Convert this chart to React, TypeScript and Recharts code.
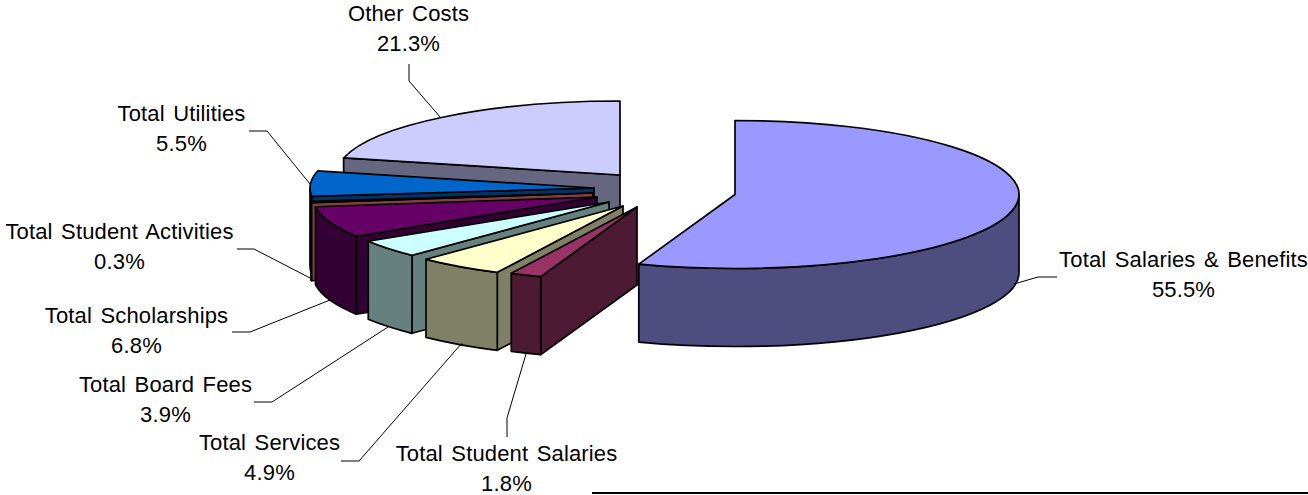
import React from "react";
import { PieChart, Pie } from "recharts";

// Listed counter-clockwise from 12 o'clock, which is also back-to-front paint order.
const categories = [
  "Other Costs",
  "Total Utilities",
  "Total Student Activities",
  "Total Scholarships",
  "Total Board Fees",
  "Total Services",
  "Total Student Salaries",
  "Total Salaries & Benefits",
];
const shares = [21.3, 5.5, 0.3, 6.8, 3.9, 4.9, 1.8, 55.5];
const topColors = ["#CCCCFF", "#0066CC", "#804040", "#660066", "#CCFFFF", "#FFFFCC", "#993366", "#9999FF"];
const wallColors = ["#666680", "#003366", "#804040", "#330033", "#668080", "#808066", "#4D1A33", "#4D4D80"];

const chartData = categories.map((name, i) => ({ name, value: shares[i], index: i }));

// Layout only
const CX = 620;
const CY = 175;
const RX = 284;
const RY = 74;
const DEPTH = 78;
const explode = [
  [0, 0],
  [-26, 13],
  [-27, 18],
  [-23, 22],
  [-11, 27],
  [3, 31],
  [17, 32],
  [115, 19.5],
];
const labelAnchors = [
  [408.5, 21],
  [181.5, 121],
  [119.5, 239],
  [136.5, 323],
  [165.5, 392],
  [269.5, 450],
  [506.5, 461],
  [1183.5, 267],
];
const leaders = [
  "409,64 409,81 441,118",
  "249,131 267,131 310,184",
  "237,249 254,249 312,279",
  "232,332 250,332 330,300",
  "254,402 272,402 388,327",
  "341,461 359,461 462,343",
  "507,437 507,418 526,354",
  "1057,277 1038,277 1014,284",
];

const rad = (d: number) => (d * Math.PI) / 180;

function SliceShape(props: any) {
  const { cx, cy, outerRadius, startAngle, endAngle, payload } = props;
  const i: number = props.index ?? payload?.index ?? 0;
  const [dx, dy] = explode[i];
  const ax = cx + dx;
  const ay = cy + dy;
  const rx = outerRadius;
  const ry = (outerRadius * RY) / RX;
  const pt = (a: number): [number, number] => [ax + rx * Math.cos(rad(a)), ay - ry * Math.sin(rad(a))];
  const a0 = Math.min(startAngle, endAngle);
  const a1 = Math.max(startAngle, endAngle);
  const [x0, y0] = pt(a0);
  const [x1, y1] = pt(a1);
  const large = a1 - a0 > 180 ? 1 : 0;
  const top = `M${ax},${ay} L${x0},${y0} A${rx},${ry} 0 ${large} 0 ${x1},${y1} Z`;
  const common = { stroke: "#000", strokeWidth: 1.7, strokeLinejoin: "round" as const };

  const faces: string[] = [];
  if (Math.cos(rad(a0)) > 0.001)
    faces.push(`M${ax},${ay} L${x0},${y0} L${x0},${y0 + DEPTH} L${ax},${ay + DEPTH} Z`);
  if (Math.cos(rad(a1)) < -0.001)
    faces.push(`M${ax},${ay} L${x1},${y1} L${x1},${y1 + DEPTH} L${ax},${ay + DEPTH} Z`);

  const s = Math.max(a0, 180);
  const e = Math.min(a1, 360);
  let wall: string | null = null;
  if (s < e) {
    const [sx, sy] = pt(s);
    const [ex, ey] = pt(e);
    const big = e - s > 180 ? 1 : 0;
    wall = `M${sx},${sy} A${rx},${ry} 0 ${big} 0 ${ex},${ey} L${ex},${ey + DEPTH} A${rx},${ry} 0 ${big} 1 ${sx},${sy + DEPTH} Z`;
  }
  return (
    <g>
      {faces.map((d, k) => (
        <path key={k} d={d} fill={wallColors[i]} {...common} />
      ))}
      {wall && <path d={wall} fill={wallColors[i]} {...common} />}
      <path d={top} fill={topColors[i]} {...common} />
    </g>
  );
}

function SliceLabel(props: any) {
  const i: number = props.index ?? 0;
  const [x, y] = labelAnchors[i];
  const style = {
    fontFamily: "'Liberation Sans', Arial, sans-serif",
    fontSize: 22,
    letterSpacing: 0.15,
    wordSpacing: 2.2,
    fill: "#000",
  };
  return (
    <g>
      <polyline points={leaders[i]} fill="none" stroke="#000" strokeWidth={1} />
      <text x={x} y={y} textAnchor="middle" style={style}>
        {categories[i]}
      </text>
      <text x={x} y={y + 29.5} textAnchor="middle" style={style}>
        {shares[i].toFixed(1)}%
      </text>
    </g>
  );
}

export default function App() {
  return (
    <div style={{ position: "absolute", left: 0, top: 0, width: 1308, height: 495, overflow: "hidden", background: "#fff" }}>
      <PieChart width={1308} height={495} margin={{ top: 0, right: 0, bottom: 0, left: 0 }}>
        <Pie
          data={chartData}
          dataKey="value"
          nameKey="name"
          cx={CX}
          cy={CY}
          innerRadius={0}
          outerRadius={RX}
          startAngle={90}
          endAngle={450}
          paddingAngle={0}
          isAnimationActive={false}
          shape={SliceShape}
          label={SliceLabel}
          labelLine={false}
          stroke="none"
        />
      </PieChart>
      <div style={{ position: "absolute", left: 592, top: 492, width: 716, height: 2, background: "#000" }} />
    </div>
  );
}
